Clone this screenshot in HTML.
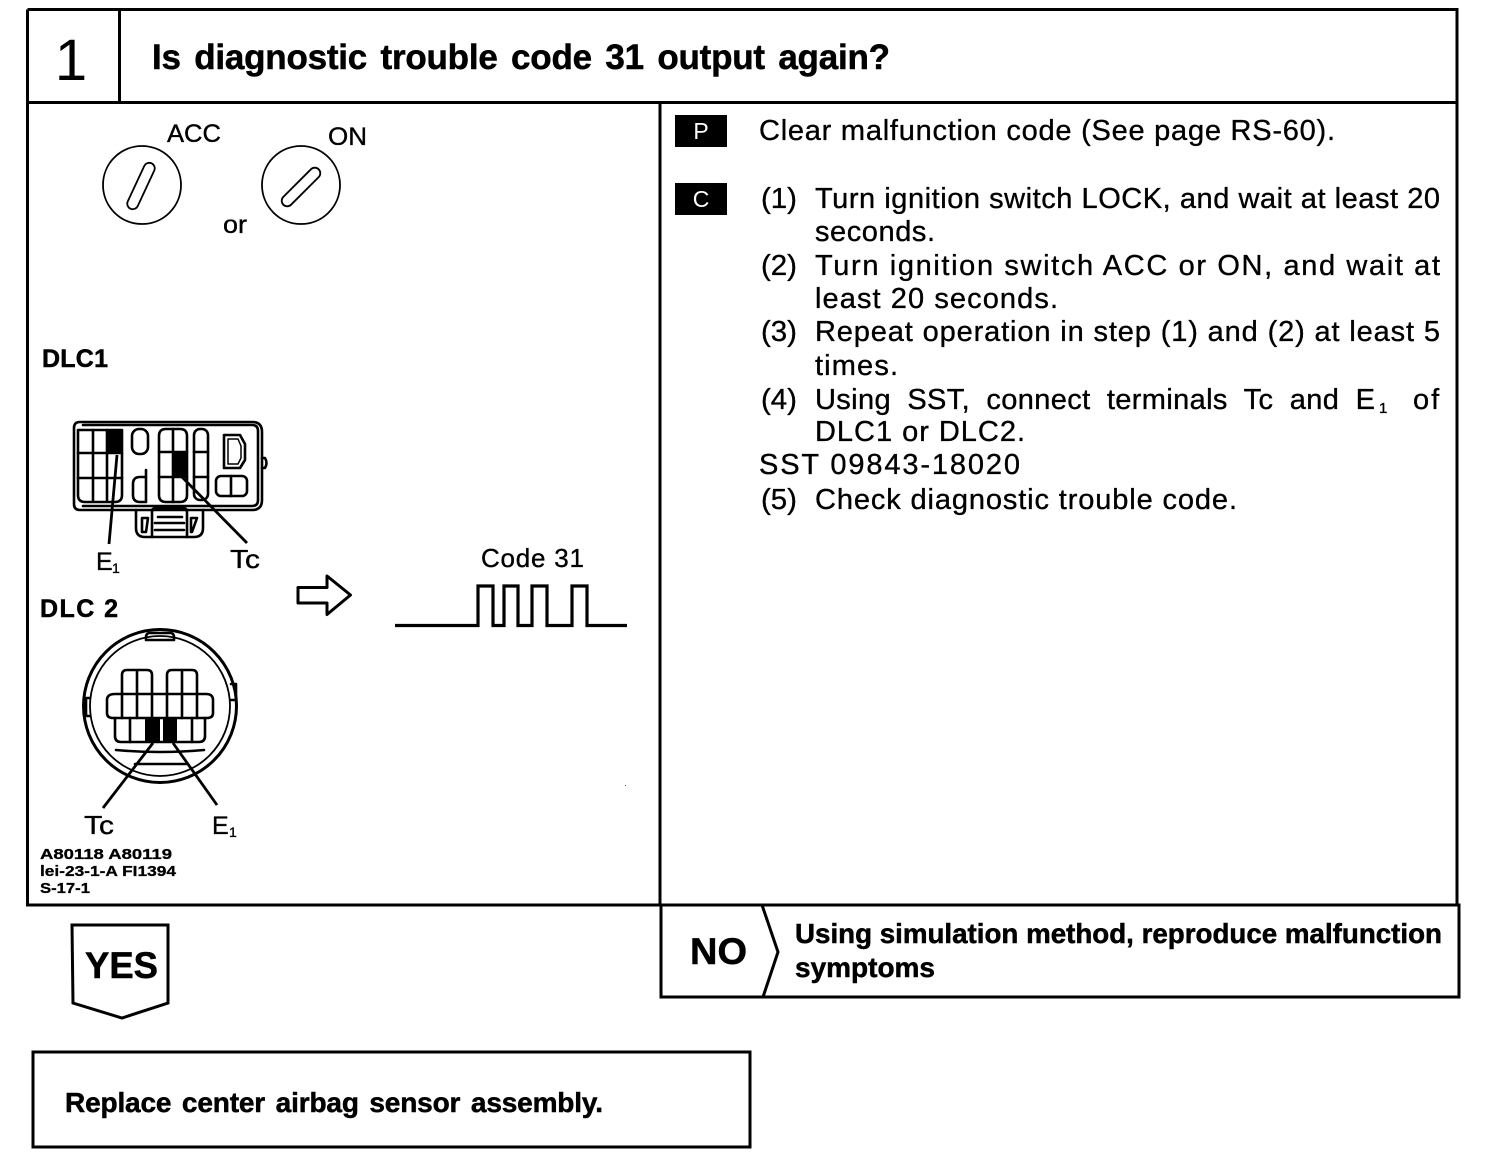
<!DOCTYPE html>
<html>
<head>
<meta charset="utf-8">
<style>
html,body{margin:0;padding:0;background:#fff}
svg{display:block}
text{font-family:"Liberation Sans",sans-serif;fill:#000;stroke:#000;stroke-width:.35}
.b{font-weight:bold;stroke-width:.5}
.t{font-size:29px}
.f{fill:none;stroke:#000;stroke-width:2.6;stroke-linejoin:round;stroke-linecap:round}
.l{fill:none;stroke:#000;stroke-width:2.8}
.k{fill:#000;stroke:none}
</style>
</head>
<body>
<svg width="1504" height="1160" viewBox="0 0 1504 1160" xmlns="http://www.w3.org/2000/svg">
<rect width="1504" height="1160" fill="#fff"/>

<!-- main frame -->
<path d="M27.500 9.500H1457V904M27.500 9.500V905H661M27.500 102.500H1457M119.500 9.500V102.500M660 103V905" fill="none" stroke="#000" stroke-width="3"/>
<path d="M661 905H1459V997H661Z" fill="none" stroke="#000" stroke-width="3"/>
<path d="M762 905L778 952L763 997" fill="none" stroke="#000" stroke-width="3"/>

<text x="71" y="80" font-size="58" text-anchor="middle" style="stroke-width:0">1</text>
<text class="b" x="152" y="69" font-size="35" word-spacing="4" textLength="738" lengthAdjust="spacing">Is diagnostic trouble code 31 output again?</text>

<!-- dials -->
<text x="167" y="142" font-size="25" textLength="54" lengthAdjust="spacingAndGlyphs">ACC</text>
<text x="328" y="145" font-size="25" textLength="39" lengthAdjust="spacingAndGlyphs">ON</text>
<text x="223" y="233" font-size="25" textLength="24" lengthAdjust="spacingAndGlyphs">or</text>
<circle cx="142" cy="185" r="39" fill="none" stroke="#000" stroke-width="1.800"/>
<circle cx="301" cy="185" r="39" fill="none" stroke="#000" stroke-width="1.800"/>
<g transform="translate(141 186) rotate(25)"><rect x="-5.500" y="-25" width="11" height="50" rx="5.500" fill="none" stroke="#000" stroke-width="1.800"/></g>
<g transform="translate(301 187) rotate(45)"><rect x="-5.500" y="-25" width="11" height="50" rx="5.500" fill="none" stroke="#000" stroke-width="1.800"/></g>

<text class="b" x="42" y="367" font-size="25" textLength="66" lengthAdjust="spacing">DLC1</text>

<!-- DLC1 connector -->
<path class="f" d="M80 422H252Q262 422 262 432V500Q262 510 252 510H80Q74 510 74 504V428Q74 422 80 422Z"/>
<path class="f" d="M83 425H252Q258 425 258 431V500Q258 506 252 506H83"/>
<path class="f" d="M78 430H122V495Q122 502 115 502H85Q78 502 78 495Z"/>
<path class="f" d="M93 430V500M107 430V500M78 453H122M78 478H122"/>
<rect class="k" x="107" y="429" width="15" height="25"/>
<rect class="f" x="132" y="429" width="16" height="25" rx="7"/>
<path class="f" d="M146 470V502H140Q133 502 133 495V484Q133 477 140 477H146"/>
<path class="f" d="M166 429H180Q187 429 187 436V495Q187 502 180 502H166Q159 502 159 495V436Q159 429 166 429Z"/>
<path class="f" d="M173 429V502M159 452H187M159 477H187"/>
<rect class="k" x="173" y="452" width="15" height="26"/>
<rect class="f" x="194" y="429" width="14" height="71" rx="6"/>
<path class="f" d="M194 452H208M194 477H208"/>
<path class="f" d="M224 435H240L245 444V460L240 468H224Z"/>
<path class="f" d="M228 439H238L241 446V458L238 464H228Z" style="stroke-width:1.500"/>
<rect class="f" x="216" y="476" width="31" height="20" rx="5"/>
<path class="f" d="M231 476V496"/>
<path class="f" d="M262 458H265Q268 463 265 468H262"/>
<path class="f" d="M136 510V528Q136 537 145 537H194Q203 537 203 528V510"/>
<path class="f" d="M152 537V512Q152 508 156 508H183Q187 508 187 512V537"/>
<path class="f" d="M158 517H182M155 523H184M155 530H184M142 518H148L146 532H142ZM191 518H197L192 532H191Z"/>
<path class="l" d="M117 455L109 544M182 477L247 543"/>
<text x="96" y="570" font-size="25">E</text><text x="112" y="573" font-size="14">1</text>
<text x="230" y="568" font-size="26" textLength="30" lengthAdjust="spacingAndGlyphs">Tc</text>

<text class="b" x="40" y="617" font-size="25" textLength="78" lengthAdjust="spacing">DLC 2</text>

<!-- Arrow & waveform -->
<path class="f" d="M298 587.500H327V576L350.500 595L327 614.500V603H298Z" style="stroke-width:3"/>
<text x="481" y="567" font-size="26" textLength="103" lengthAdjust="spacing">Code 31</text>
<path d="M395 625.500H478V586H493V625.500H504V586H518V625.500H532V586H547V625.500H572V586H587V625.500H627" fill="none" stroke="#000" stroke-width="3.200"/>
<rect x="625" y="785" width="1" height="1" fill="#555"/>

<!-- DLC2 connector -->
<circle cx="160" cy="706" r="76.500" fill="none" stroke="#000" stroke-width="3"/>
<circle cx="160" cy="706" r="70" fill="none" stroke="#000" stroke-width="1.800"/>
<path class="f" d="M146 637Q146 633 150 633H170Q174 633 174 637V640H146Z"/>
<path class="f" d="M90 698H86V716H90M231 684H236V700H231"/>
<path class="f" d="M122 694V675Q122 670 127 670H147Q152 670 152 675V694M137 670V718M167 694V675Q167 670 172 670H192Q197 670 197 675V694M182 670V718"/>
<path class="f" d="M115 694H206Q213 694 213 700V713Q213 718 207 718H113Q107 718 107 713V700Q107 694 115 694Z"/>
<path class="f" d="M122 694V718M152 694V718M167 694V718M197 694V718"/>
<path class="f" d="M115 718V736Q115 742 121 742H199Q205 742 205 736V718"/>
<path class="f" d="M130 718V742M192 718V742"/>
<rect class="k" x="145" y="718" width="15" height="24"/>
<rect class="k" x="163" y="718" width="14" height="24"/>
<path class="f" d="M116 750Q160 754 204 750M135 764H186"/>
<path class="l" d="M153 743L103 808M173 743L217 805"/>
<text x="84" y="834" font-size="26" textLength="30" lengthAdjust="spacingAndGlyphs">Tc</text>
<text x="212" y="834" font-size="25">E</text><text x="229" y="837" font-size="14">1</text>
<text class="b" x="40" y="859" font-size="15" textLength="132" lengthAdjust="spacingAndGlyphs" style="stroke-width:.3">A80118 A80119</text>
<text class="b" x="40" y="876" font-size="15" textLength="136" lengthAdjust="spacingAndGlyphs" style="stroke-width:.3">lei-23-1-A FI1394</text>
<text class="b" x="40" y="893" font-size="15" textLength="50" lengthAdjust="spacingAndGlyphs" style="stroke-width:.3">S-17-1</text>

<!-- P / C labels -->
<rect class="k" x="675" y="115" width="52" height="32"/>
<rect class="k" x="675" y="183" width="52" height="32"/>
<text x="701" y="139" font-size="23" text-anchor="middle" style="fill:#fff;stroke-width:0">P</text>
<text x="701" y="207" font-size="23" text-anchor="middle" style="fill:#fff;stroke-width:0">C</text>

<!-- right text -->
<text class="t" x="759" y="140" textLength="576" lengthAdjust="spacing">Clear malfunction code (See page RS-60).</text>
<text class="t" x="761" y="208" textLength="36" lengthAdjust="spacingAndGlyphs">(1)</text>
<text class="t" x="815" y="208" textLength="625" lengthAdjust="spacing">Turn ignition switch LOCK, and wait at least 20</text>
<text class="t" x="815" y="241" textLength="120" lengthAdjust="spacing">seconds.</text>
<text class="t" x="761" y="275" textLength="36" lengthAdjust="spacingAndGlyphs">(2)</text>
<text class="t" x="815" y="275" textLength="625" lengthAdjust="spacing">Turn ignition switch ACC or ON, and wait at</text>
<text class="t" x="815" y="308" textLength="243" lengthAdjust="spacing">least 20 seconds.</text>
<text class="t" x="761" y="341" textLength="36" lengthAdjust="spacingAndGlyphs">(3)</text>
<text class="t" x="815" y="341" textLength="625" lengthAdjust="spacing">Repeat operation in step (1) and (2) at least 5</text>
<text class="t" x="815" y="375" textLength="83" lengthAdjust="spacing">times.</text>
<text class="t" x="761" y="409" textLength="36" lengthAdjust="spacingAndGlyphs">(4)</text>
<text class="t" x="815" y="409" word-spacing="8" textLength="560" lengthAdjust="spacing">Using SST, connect terminals Tc and E</text>
<text x="1379" y="413" font-size="15">1</text>
<text class="t" x="1413" y="409" letter-spacing="2">of</text>
<text class="t" x="815" y="441" textLength="210" lengthAdjust="spacing">DLC1 or DLC2.</text>
<text class="t" x="759" y="474" textLength="261" lengthAdjust="spacing">SST 09843-18020</text>
<text class="t" x="761" y="509" textLength="36" lengthAdjust="spacingAndGlyphs">(5)</text>
<text class="t" x="815" y="509" textLength="422" lengthAdjust="spacing">Check diagnostic trouble code.</text>

<!-- NO -->
<text class="b" x="690" y="964" font-size="37" textLength="57" lengthAdjust="spacingAndGlyphs">NO</text>
<text class="b" x="795" y="943" font-size="28" textLength="647" lengthAdjust="spacingAndGlyphs">Using simulation method, reproduce malfunction</text>
<text class="b" x="795" y="977" font-size="28" textLength="140" lengthAdjust="spacingAndGlyphs">symptoms</text>

<!-- YES -->
<path d="M72 925H168V1003L122 1018L73 1003Z" fill="none" stroke="#000" stroke-width="3"/>
<text class="b" x="85" y="978" font-size="37" textLength="73" lengthAdjust="spacingAndGlyphs">YES</text>

<!-- bottom box -->
<rect x="33" y="1052" width="717" height="95" fill="none" stroke="#000" stroke-width="3"/>
<text class="b" x="65" y="1112" font-size="28" word-spacing="3" textLength="538" lengthAdjust="spacing">Replace center airbag sensor assembly.</text>
</svg>
</body>
</html>
